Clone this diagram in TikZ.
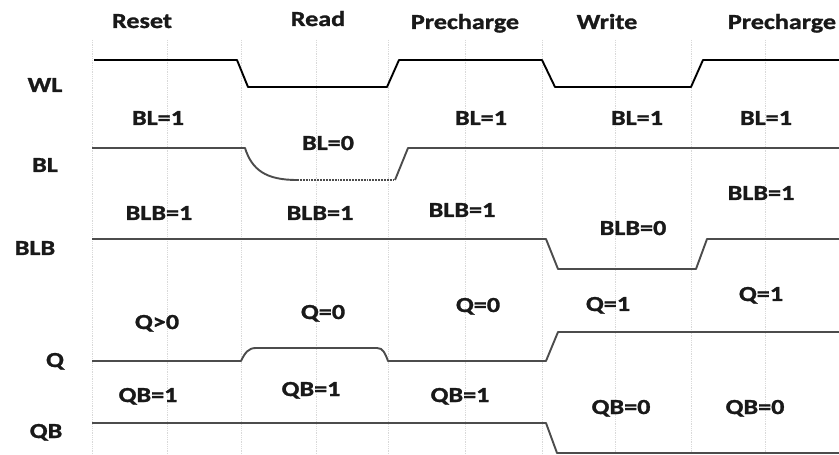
\documentclass[tikz,border=0pt]{standalone}
\usepackage{fontspec}
\newfontfamily\lblfont{Carlito}[FakeStretch=1.22,BoldFeatures={FakeBold=1.3}]
\begin{document}
\begin{tikzpicture}[x=1bp,y=-1bp,
  lbl/.style={font=\lblfont\bfseries\fontsize{21.5}{24}\selectfont, text=black!90,
    inner sep=0pt, text height=14bp, text depth=0bp, anchor=center},
  grid/.style={gray!30, densely dotted, line width=0.8bp},
  wl/.style={black, line width=1.9bp, line join=round},
  sig/.style={black!70, line width=1.9bp, line join=round}]
\useasboundingbox (0,0) rectangle (839,455);
\fill[white] (0,0) rectangle (839,455);

% faint timing grid
\foreach \gx in {92,167,241,316,388,465,542,615,691,765}
  \draw[grid] (\gx,40) -- (\gx,455);

% phase headers
\node[lbl] (hReset) at (142,21) {Reset};
\node[lbl] (hRead)  at (318,19) {Read};
\node[lbl] (hPre1)  at (465,22) {Precharge};
\node[lbl] (hWrite) at (607,22) {Write};
\node[lbl] (hPre2)  at (782,22) {Precharge};

% signal names
\node[lbl] (nWL)  at (45,85)  {WL};
\node[lbl] (nBL)  at (45,165) {BL};
\node[lbl] (nBLB) at (35,248) {BLB};
\node[lbl] (nQ)   at (55,360) {Q};
\node[lbl] (nQB)  at (46,431) {QB};

% word line
\draw[wl] (94,60) -- (237,60) -- (248,87) -- (387,87) -- (399,60)
  -- (542,60) -- (555,87) -- (691,87) -- (703,60) -- (839,60);

% bit line
\draw[sig] (92,148) -- (245,148) .. controls (252,170) and (266,180) .. (297,180);
\draw[sig, densely dotted] (297,180) -- (395,180);
\draw[sig] (395,180) -- (408,148) -- (839,148);

% complementary bit line
\draw[sig] (92,239) -- (546,239) -- (558,269) -- (696,269) -- (707,239) -- (839,239);

% storage node Q
\draw[sig] (92,361) -- (241,361) .. controls (245,353) and (248,348) .. (256,348)
  -- (377,348) .. controls (383,348) and (385,353) .. (388,361)
  -- (546,361) -- (558,332) -- (839,332);

% storage node QB
\draw[sig] (92,423) -- (546,423) -- (557,453) -- (839,453);

% state annotations
\node[lbl] (bl1) at (158,118) {BL=1};
\node[lbl] (bl2) at (328,143) {BL=0};
\node[lbl] (bl3) at (481,118) {BL=1};
\node[lbl] (bl4) at (637,118) {BL=1};
\node[lbl] (bl5) at (766,118) {BL=1};

\node[lbl] (blb1) at (159,213) {BLB=1};
\node[lbl] (blb2) at (320,213) {BLB=1};
\node[lbl] (blb3) at (462,210) {BLB=1};
\node[lbl] (blb4) at (633,228) {BLB=0};
\node[lbl] (blb5) at (761,193) {BLB=1};

\node[lbl] (q1) at (157,322) {Q>0};
\node[lbl] (q2) at (323,312) {Q=0};
\node[lbl] (q3) at (478,305) {Q=0};
\node[lbl] (q4) at (608,304) {Q=1};
\node[lbl] (q5) at (761,294) {Q=1};

\node[lbl] (qb1) at (148,395) {QB=1};
\node[lbl] (qb2) at (311,389) {QB=1};
\node[lbl] (qb3) at (460,395) {QB=1};
\node[lbl] (qb4) at (621,407) {QB=0};
\node[lbl] (qb5) at (755,407) {QB=0};
\end{tikzpicture}
\end{document}
